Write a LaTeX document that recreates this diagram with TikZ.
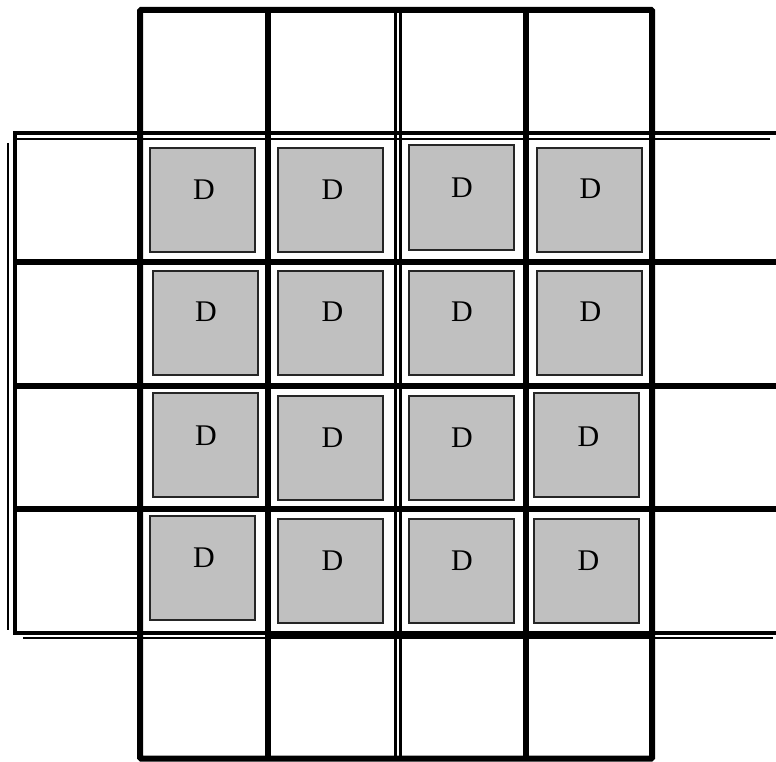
\documentclass[tikz,border=0pt]{standalone}
\usepackage{fontspec}
\setmainfont{Liberation Serif}
\usepackage{xcolor}
\usepackage{tikz}
\definecolor{cellgray}{HTML}{C0C0C0}

\begin{document}
\begin{tikzpicture}[
  x=1pt, y=-1pt,
  dbox/.style={draw=black!85, line width=2pt, fill=cellgray, minimum width=105pt, minimum height=104pt, inner sep=0pt},
  dlabel/.style={font=\fontsize{30}{30}\selectfont, inner sep=0pt},
  gridline/.style={line width=6pt},
  thinline/.style={line width=3pt},
  edgeline/.style={line width=2.5pt}
]
  \useasboundingbox (0,0) rectangle (776,762);

  % Vertical band
  \draw[gridline, rounded corners=1pt] (140,10) rectangle (652,758.5);
  \draw[gridline] (268,10) -- (268,758.5);
  \draw[gridline] (526,10) -- (526,758.5);
  \draw[thinline] (395,10) -- (395,758.5);
  \draw[thinline] (400,10) -- (400,758.5);

  % Horizontal band
  \draw[line width=4pt] (776,133) -- (15,133) -- (15,632.5) -- (776,632.5);
  \draw[edgeline] (770,139) -- (17,139);
  \draw[edgeline] (8,143) -- (8,630);
  \draw[edgeline] (23,638) -- (773,638);
  \draw[gridline] (15,262) -- (776,262);
  \draw[gridline] (15,385.5) -- (776,385.5);
  \draw[gridline] (15,509) -- (776,509);
  \draw[gridline] (268,636) -- (652,636);

  % Row 1
  \node[dbox] (d11) at (202.5,200) {};
  \node[dbox] (d12) at (330,200) {};
  \node[dbox] (d13) at (461,197.5) {};
  \node[dbox] (d14) at (589,200) {};
  \node[dlabel] (l11) at (204,190) {D};
  \node[dlabel] (l12) at (332.5,190) {D};
  \node[dlabel] (l13) at (462,187.5) {D};
  \node[dlabel] (l14) at (590.5,189) {D};

  % Row 2
  \node[dbox] (d21) at (205,323) {};
  \node[dbox] (d22) at (330,323) {};
  \node[dbox] (d23) at (461,323) {};
  \node[dbox] (d24) at (589,323) {};
  \node[dlabel] (l21) at (206,312) {D};
  \node[dlabel] (l22) at (332.5,312) {D};
  \node[dlabel] (l23) at (462,312) {D};
  \node[dlabel] (l24) at (590.5,312) {D};

  % Row 3
  \node[dbox] (d31) at (205,445) {};
  \node[dbox] (d32) at (330,448) {};
  \node[dbox] (d33) at (461,448) {};
  \node[dbox] (d34) at (586,445) {};
  \node[dlabel] (l31) at (206,436) {D};
  \node[dlabel] (l32) at (332.5,437.5) {D};
  \node[dlabel] (l33) at (462,438) {D};
  \node[dlabel] (l34) at (588.5,436.5) {D};

  % Row 4
  \node[dbox] (d41) at (202.5,568) {};
  \node[dbox] (d42) at (330,570.5) {};
  \node[dbox] (d43) at (461,570.5) {};
  \node[dbox] (d44) at (586,570.5) {};
  \node[dlabel] (l41) at (204,557.5) {D};
  \node[dlabel] (l42) at (332.5,561) {D};
  \node[dlabel] (l43) at (462,561) {D};
  \node[dlabel] (l44) at (588.5,561) {D};

\end{tikzpicture}
\end{document}
